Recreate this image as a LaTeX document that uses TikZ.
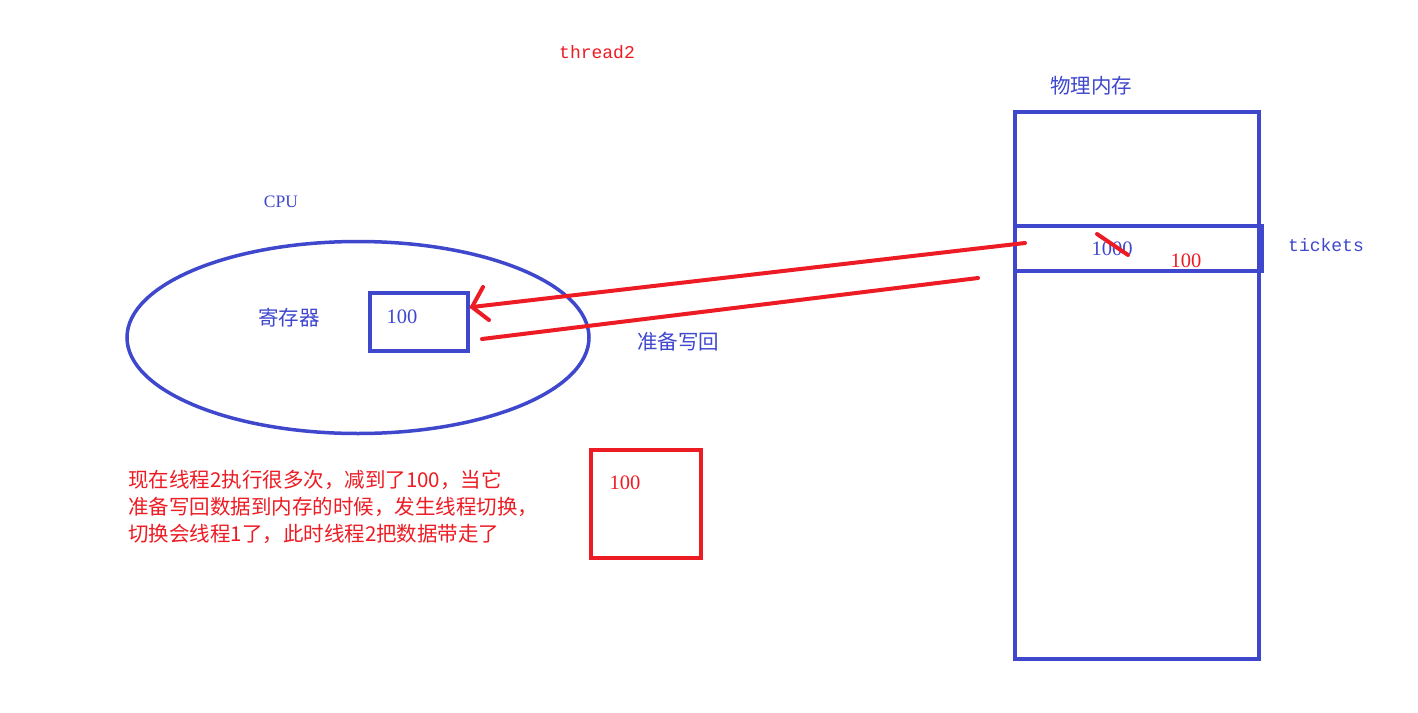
\documentclass[tikz,border=0pt]{standalone}
\usepackage{fontspec}
\usetikzlibrary{shapes.geometric}
\setmainfont{Liberation Serif}
\newfontfamily\cjk{Noto Sans CJK SC}
\newfontfamily\mono{Liberation Mono}
\definecolor{pblue}{RGB}{63,72,204}
\definecolor{pred}{RGB}{237,28,36}
\tikzset{
  rline/.style={draw=pred,line width=4pt,line cap=round},
  btxt/.style={text=pblue,inner sep=0pt,font=\fontsize{20.5}{24}\selectfont},
  rtxt/.style={text=pred,inner sep=0pt,font=\fontsize{20.5}{24}\selectfont},
  bcjk/.style={text=pblue,inner sep=0pt,font=\fontsize{20.5}{24}\selectfont\cjk},
  bbox/.style={draw=pblue,line width=4pt,inner sep=0pt},
  rbox/.style={draw=pred,line width=4pt,inner sep=0pt},
}
\begin{document}
\begin{tikzpicture}[x=1pt,y=-1pt]
\useasboundingbox[fill=white] (0,0) rectangle (1418,712);
% title
\node[text=pred,inner sep=0pt,font=\fontsize{18}{20}\selectfont\mono] (thr) at (597,52) {thread2};
% CPU
\node[text=pblue,inner sep=0pt,font=\fontsize{17.5}{20}\selectfont] (cpu) at (281,202) {CPU};
\node[ellipse,draw=pblue,line width=3.5pt,minimum width=462pt,minimum height=192pt,inner sep=0pt] (ell) at (358,337.5) {};
\node[bcjk] (reg) at (289,318) {寄存器};
\node[bbox,minimum width=98pt,minimum height=58pt] (regbox) at (418.5,321.5) {};
\node[btxt] (rv) at (402,317) {100};
% memory
\node[bcjk] (mem) at (1091,86) {物理内存};
\node[bbox,minimum width=244pt,minimum height=547pt] (membox) at (1137,385.5) {};
\node[bbox,minimum width=247pt,minimum height=45pt] (row) at (1138.5,248.5) {};
\node[btxt] (old) at (1112,249) {1000};
\coordinate (s1) at (1097,234);
\coordinate (s2) at (1128,255);
\draw[rline] (s1) -- (s2);
\node[rtxt] (new) at (1186,261) {100};
\node[text=pblue,inner sep=0pt,font=\fontsize{18}{20}\selectfont\mono] (tk) at (1326,245) {tickets};
% arrows
\coordinate (a0) at (1025,243);
\coordinate (a1) at (472,307);
\coordinate (h1) at (483,287);
\coordinate (h2) at (489,320);
\draw[rline] (a0) -- (a1);
\draw[rline] (h1) -- (a1) -- (h2);
\coordinate (b0) at (482,339);
\coordinate (b1) at (978,278);
\draw[rline] (b0) -- (b1);
\node[bcjk] (wb) at (678,342) {准备写回};
% red box
\node[rbox,minimum width=110pt,minimum height=108pt] (rb0) at (645.5,504) {};
\node[rtxt] (rb) at (625,483) {100};
% note
\node[text=pred,inner sep=0pt,anchor=north west,align=left,font=\fontsize{20.5}{27}\selectfont\cjk] (note) at (128,470) {现在线程2执行很多次，减到了100，当它\\准备写回数据到内存的时候，发生线程切换，\\切换会线程1了，此时线程2把数据带走了};
\end{tikzpicture}
\end{document}
